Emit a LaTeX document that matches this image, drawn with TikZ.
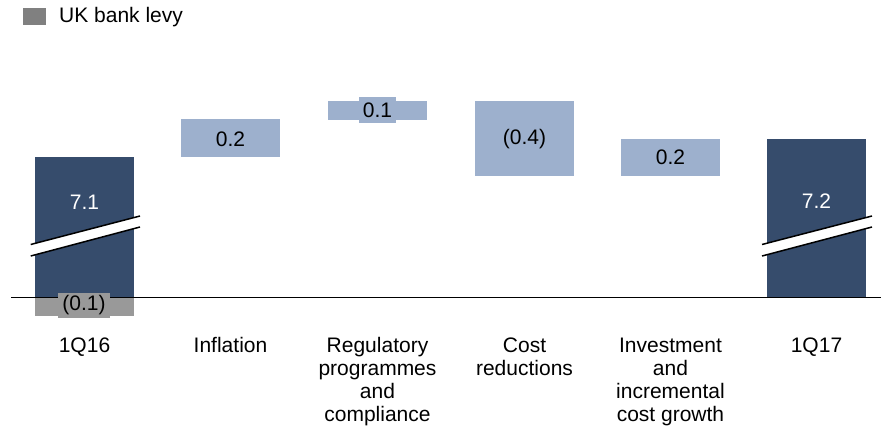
\documentclass[tikz,border=0pt]{standalone}
\usepackage{fontspec}
\setmainfont{Liberation Sans}
\usetikzlibrary{positioning}
\definecolor{navy}{HTML}{364C6C}
\definecolor{pale}{HTML}{9DB0CD}
\definecolor{levy}{HTML}{999999}
\definecolor{levykey}{HTML}{808080}
\tikzset{
  val/.style={inner sep=0pt, anchor=center},
  tag/.style={val, inner xsep=4pt, minimum height=25.5pt},
  cat/.style={anchor=base, align=center, inner sep=0pt},
  brk/.style={line width=1.5pt, black}
}

\begin{document}
\begin{tikzpicture}[x=1pt, y=-1pt, font=\fontsize{21}{23}\selectfont]
    \useasboundingbox (0,0) rectangle (881,434);

    % Legende
    \fill[levykey] (23,8) rectangle (46,25);
    \node[anchor=west, inner sep=0pt] (key) at (59,17) {UK bank levy};

    % Balken inicio e fim
    \fill[navy] (35,157) rectangle (134,297);
    \fill[levy] (35,297) rectangle (134,316);
    \fill[navy] (767,139) rectangle (866,297);

    % Balken intermedios
    \foreach \x/\top/\bot in {230.5/119/157, 377.5/101/120, 524.5/101/176, 670.5/139/176} {
      \fill[pale] (\x-49.5,\top) rectangle (\x+49.5,\bot);
    }

    % Quebras
    \foreach \a/\b in {30.7/140, 762/872} {
      \fill[white] (\a,244.5) -- (\b,216) -- (\b,227) -- (\a,256) -- cycle;
      \draw[brk] (\a,244.5) -- (\b,216) (\a,256) -- (\b,227);
    }

    % Eixo
    \draw[line width=1.5pt] (11,297.5) -- (881,297.5);

    % Valores
    \node[val, text=white] (v1) at (84.5,202) {7.1};
    \node[tag, fill=levy] (v0) at (84,305.5) {(0.1)};
    \node[val] (v2) at (230.5,139) {0.2};
    \node[tag, fill=pale, minimum height=26pt] (v3) at (377.5,110) {0.1};
    \node[val] (v4) at (524.5,139) {(0.4)};
    \node[val] (v5) at (670.5,157.5) {0.2};
    \node[val, text=white] (v6) at (816.5,201) {7.2};

    % Categorias (base = ultima linha)
    \foreach \x/\name/\n/\txt in {84.5/c1/0/1Q16, 230.5/c2/0/Inflation,
        377.5/c3/3/{Regulatory\\programmes\\and\\compliance},
        524.5/c4/1/{Cost\\reductions},
        670.5/c5/3/{Investment\\and\\incremental\\cost growth},
        816.5/c6/0/1Q17} {
      \node[cat] (\name) at (\x,352.7+23*\n) {\txt};
    }

\end{tikzpicture}
\end{document}
